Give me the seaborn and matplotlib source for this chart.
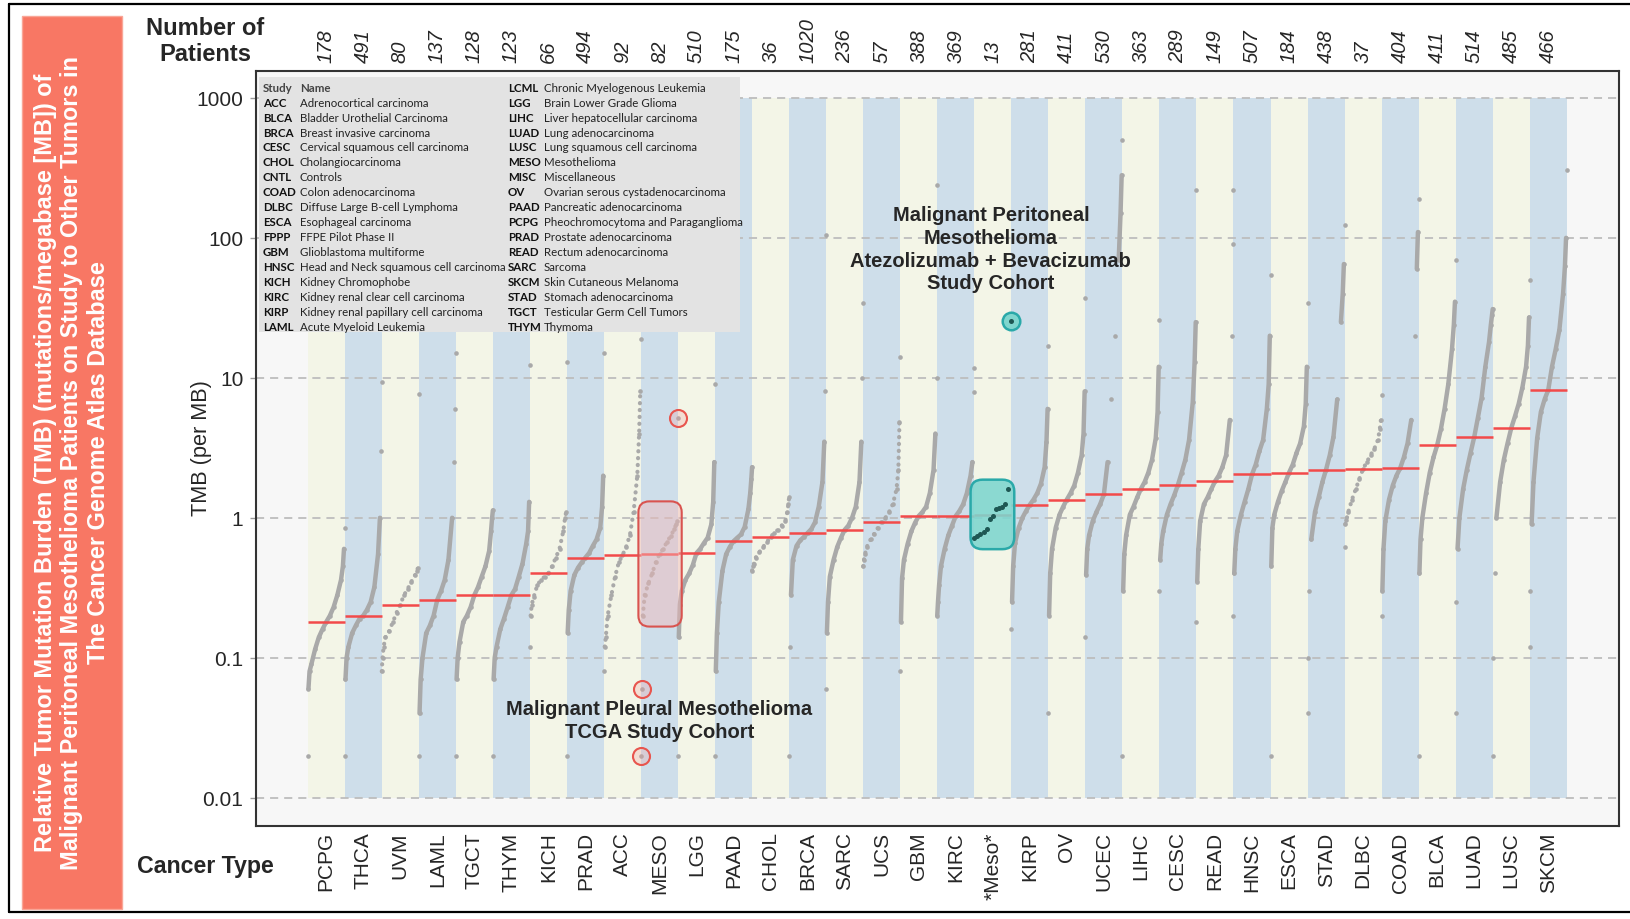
import numpy as np
import pandas as pd
import matplotlib
matplotlib.use("Agg")
import matplotlib.pyplot as plt
import matplotlib.transforms as mtransforms
from matplotlib.patches import FancyBboxPatch, Rectangle
from matplotlib.lines import Line2D
from matplotlib.ticker import NullLocator
import seaborn as sns

# ---------------------------------------------------------------- data
cancer_types = ["PCPG", "THCA", "UVM", "LAML", "TGCT", "THYM", "KICH", "PRAD", "ACC",
                "MESO", "LGG", "PAAD", "CHOL", "BRCA", "SARC", "UCS", "GBM", "KIRC",
                "*Meso*", "KIRP", "OV", "UCEC", "LIHC", "CESC", "READ", "HNSC", "ESCA",
                "STAD", "DLBC", "COAD", "BLCA", "LUAD", "LUSC", "SKCM"]
patients = [178, 491, 80, 137, 128, 123, 66, 494, 92, 82, 510, 175, 36, 1020, 236, 57,
            388, 369, 13, 281, 411, 530, 363, 289, 149, 507, 184, 438, 37, 404, 411, 514,
            485, 466]
medians = [0.18, 0.20, 0.24, 0.26, 0.28, 0.28, 0.40, 0.52, 0.54, 0.55, 0.56, 0.68, 0.73,
           0.78, 0.82, 0.94, 1.03, 1.03, 1.05, 1.24, 1.35, 1.47, 1.61, 1.72, 1.82, 2.04,
           2.10, 2.21, 2.24, 2.26, 3.30, 3.77, 4.37, 8.20]

# sorted TMB per cohort, sampled at these rank percentiles
percentiles = [0, 2, 5, 10, 20, 30, 40, 50, 60, 70, 80, 90, 95, 98, 100]
PCPG = [0.02, 0.06, 0.08, 0.09, 0.115, 0.14, 0.16, 0.18, 0.20, 0.23, 0.28, 0.36, 0.45, 0.60, 0.85]
THCA = [0.02, 0.07, 0.10, 0.12, 0.15, 0.17, 0.19, 0.20, 0.22, 0.25, 0.32, 0.55, 1.0, 3.0, 9.3]
UVM = [0.08, 0.10, 0.12, 0.14, 0.155, 0.18, 0.21, 0.24, 0.28, 0.31, 0.35, 0.39, 0.42, 0.44, 7.7]
LAML = [0.02, 0.04, 0.07, 0.10, 0.15, 0.17, 0.20, 0.26, 0.30, 0.36, 0.50, 1.0, 2.5, 6.0, 15]
TGCT = [0.02, 0.07, 0.10, 0.13, 0.18, 0.20, 0.23, 0.28, 0.32, 0.38, 0.45, 0.58, 0.80, 1.0, 1.13]
THYM = [0.02, 0.07, 0.10, 0.12, 0.16, 0.19, 0.23, 0.28, 0.31, 0.38, 0.47, 0.65, 0.80, 1.3, 12.4]
KICH = [0.12, 0.20, 0.24, 0.27, 0.33, 0.36, 0.38, 0.40, 0.45, 0.52, 0.60, 0.80, 1.0, 1.1, 13]
PRAD = [0.02, 0.15, 0.22, 0.30, 0.39, 0.44, 0.48, 0.52, 0.56, 0.63, 0.70, 0.85, 1.2, 2.0, 15]
ACC = [0.08, 0.12, 0.14, 0.20, 0.28, 0.38, 0.48, 0.54, 0.62, 0.75, 1.1, 2.0, 4.0, 8.0, 19]
MESO = [0.02, 0.06, 0.20, 0.28, 0.34, 0.40, 0.48, 0.55, 0.60, 0.67, 0.74, 0.83, 0.90, 0.95, 5.2]
LGG = [0.02, 0.14, 0.24, 0.30, 0.36, 0.40, 0.46, 0.56, 0.60, 0.66, 0.72, 0.90, 1.3, 2.5, 9.0]
PAAD = [0.02, 0.08, 0.15, 0.25, 0.42, 0.55, 0.62, 0.68, 0.72, 0.76, 0.86, 1.15, 1.5, 1.9, 2.3]
CHOL = [0.42, 0.45, 0.47, 0.52, 0.57, 0.62, 0.67, 0.73, 0.78, 0.82, 0.88, 0.95, 1.1, 1.25, 1.4]
BRCA = [0.02, 0.12, 0.28, 0.50, 0.63, 0.69, 0.73, 0.78, 0.83, 0.93, 1.2, 1.8, 3.5, 8.0, 105]
SARC = [0.06, 0.15, 0.25, 0.38, 0.50, 0.62, 0.72, 0.82, 0.88, 1.0, 1.2, 1.8, 3.5, 10, 34]
UCS = [0.45, 0.50, 0.55, 0.62, 0.70, 0.77, 0.85, 0.94, 1.0, 1.1, 1.25, 1.6, 2.2, 4.8, 14]
GBM = [0.08, 0.18, 0.37, 0.50, 0.65, 0.80, 0.92, 1.03, 1.1, 1.2, 1.5, 2.2, 4.0, 10, 240]
KIRC = [0.20, 0.25, 0.33, 0.45, 0.60, 0.75, 0.88, 1.03, 1.12, 1.25, 1.5, 2.0, 2.5, 7.9, 11.8]
KIRP = [0.16, 0.25, 0.45, 0.66, 0.85, 1.0, 1.12, 1.24, 1.35, 1.5, 1.75, 2.3, 3.5, 6.0, 17]
OV = [0.04, 0.20, 0.40, 0.60, 0.85, 1.05, 1.2, 1.35, 1.5, 1.7, 2.1, 2.8, 4.0, 8.0, 37]
UCEC = [0.14, 0.39, 0.60, 0.75, 0.95, 1.1, 1.25, 1.47, 2.5, 7.0, 20, 70, 150, 280, 500]
LIHC = [0.02, 0.30, 0.55, 0.75, 1.05, 1.2, 1.4, 1.61, 1.8, 2.1, 2.6, 3.7, 5.7, 12, 26]
CESC = [0.30, 0.50, 0.65, 0.80, 1.05, 1.25, 1.45, 1.72, 2.1, 2.6, 3.6, 6.7, 13, 25, 220]
READ = [0.18, 0.35, 0.60, 0.95, 1.25, 1.4, 1.6, 1.82, 2.0, 2.3, 2.8, 5.0, 20, 90, 220]
HNSC = [0.20, 0.40, 0.60, 0.80, 1.05, 1.3, 1.6, 2.04, 2.4, 3.0, 3.6, 6.0, 9.0, 20, 54]
ESCA = [0.02, 0.45, 0.85, 1.05, 1.3, 1.55, 1.8, 2.1, 2.4, 2.9, 3.4, 4.5, 6.5, 12, 34]
STAD = [0.04, 0.10, 0.30, 0.70, 1.1, 1.4, 1.8, 2.21, 2.8, 3.8, 7.0, 25, 40, 65, 124]
DLBC = [0.62, 0.90, 0.97, 1.1, 1.35, 1.6, 1.9, 2.24, 2.5, 2.8, 3.1, 3.6, 4.3, 5.0, 7.6]
COAD = [0.20, 0.30, 0.60, 0.95, 1.35, 1.7, 2.0, 2.26, 2.7, 3.4, 5.0, 20, 60, 110, 190]
BLCA = [0.02, 0.40, 0.70, 1.0, 1.5, 2.1, 2.7, 3.3, 4.3, 6.0, 9.0, 16, 24, 35, 69]
LUAD = [0.04, 0.25, 0.60, 1.0, 1.6, 2.2, 2.9, 3.77, 5.2, 7.2, 12, 18, 24, 28, 31]
LUSC = [0.02, 0.10, 0.40, 1.0, 1.8, 2.6, 3.4, 4.37, 5.3, 6.5, 8.5, 12, 17, 27, 50]
SKCM = [0.12, 0.30, 0.90, 1.8, 3.7, 5.7, 7.0, 8.2, 12, 16, 22, 40, 63, 100, 304]

# peritoneal mesothelioma study cohort (13 patients, sorted)
meso_cohort = [0.716, 0.743, 0.769, 0.794, 0.826, 0.984, 1.03, 1.16, 1.18, 1.20, 1.26,
               1.60, 25.4]

cohorts = [PCPG, THCA, UVM, LAML, TGCT, THYM, KICH, PRAD, ACC, MESO, LGG, PAAD, CHOL,
           BRCA, SARC, UCS, GBM, KIRC, None, KIRP, OV, UCEC, LIHC, CESC, READ, HNSC,
           ESCA, STAD, DLBC, COAD, BLCA, LUAD, LUSC, SKCM]

legend_codes_left = ["ACC", "BLCA", "BRCA", "CESC", "CHOL", "CNTL", "COAD", "DLBC",
                     "ESCA", "FPPP", "GBM", "HNSC", "KICH", "KIRC", "KIRP", "LAML"]
legend_names_left = ["Adrenocortical carcinoma", "Bladder Urothelial Carcinoma",
                     "Breast invasive carcinoma", "Cervical squamous cell carcinoma",
                     "Cholangiocarcinoma", "Controls", "Colon adenocarcinoma",
                     "Diffuse Large B-cell Lymphoma", "Esophageal carcinoma",
                     "FFPE Pilot Phase II", "Glioblastoma multiforme",
                     "Head and Neck squamous cell carcinoma", "Kidney Chromophobe",
                     "Kidney renal clear cell carcinoma",
                     "Kidney renal papillary cell carcinoma", "Acute Myeloid Leukemia"]
legend_codes_right = ["LCML", "LGG", "LIHC", "LUAD", "LUSC", "MESO", "MISC", "OV", "PAAD",
                      "PCPG", "PRAD", "READ", "SARC", "SKCM", "STAD", "TGCT", "THYM"]
legend_names_right = ["Chronic Myelogenous Leukemia", "Brain Lower Grade Glioma",
                      "Liver hepatocellular carcinoma", "Lung adenocarcinoma",
                      "Lung squamous cell carcinoma", "Mesothelioma", "Miscellaneous",
                      "Ovarian serous cystadenocarcinoma", "Pancreatic adenocarcinoma",
                      "Pheochromocytoma and Paraganglioma", "Prostate adenocarcinoma",
                      "Rectum adenocarcinoma", "Sarcoma", "Skin Cutaneous Melanoma",
                      "Stomach adenocarcinoma", "Testicular Germ Cell Tumors", "Thymoma"]

y_ticks = [0.01, 0.1, 1, 10, 100, 1000]
y_tick_labels = ["0.01", "0.1", "1", "10", "100", "1000"]

# ---------------------------------------------------------------- style
sns.set_theme(style="white")
plt.rcParams["font.family"] = ["Liberation Sans", "DejaVu Sans"]

W, H = 1631, 920
fig = plt.figure(figsize=(W / 100, H / 100), dpi=100)
fig.patch.set_facecolor("white")
AX_L, AX_R, AX_T, AX_B = 256, 1619, 72.3, 826.7
ax_w_px, ax_h_px = AX_R - AX_L, AX_B - AX_T
ax = fig.add_axes([AX_L / W, 1 - AX_B / H, ax_w_px / W, ax_h_px / H])
ax.set_facecolor("#f7f7f7")
ax.set_yscale("log")

n_types = len(cancer_types)
idx = np.arange(n_types)
GREY = "#a9a9a9"

# alternating column bands between 0.01 and 1000
band_colors = ["#f3f5e7" if i % 2 == 0 else "#cedeea" for i in idx]
ax.bar(idx, 1000 - 0.01, bottom=0.01, width=1.0, color=band_colors, linewidth=0, zorder=0.5)

for v in y_ticks:
    ax.axhline(v, color="#bdbdbd", lw=1.3, dashes=(4.5, 3.3), zorder=1)

# knots of each cohort's sorted curve; the extreme patients stay as lone dots
point_rows, dense_rows, sparse_rows = [], [], []
run_id = 0
last = len(percentiles) - 1
for i, (name, vals, n) in enumerate(zip(cancer_types, cohorts, patients)):
    if vals is None:
        continue
    xs = [i - 0.5 + p / 100 for p in percentiles]
    for x, v in zip(xs, vals):
        point_rows.append({"type": name, "pos": x, "tmb": v})
    logs = np.log10(vals)
    run = [0]
    runs = []
    for k in range(1, len(vals)):
        limit = 0.12 if k in (1, last) else 0.35
        if abs(logs[k] - logs[k - 1]) < limit:
            run.append(k)
        else:
            runs.append(run)
            run = [k]
    runs.append(run)
    target = dense_rows if n >= 100 else sparse_rows
    for r in runs:
        if len(r) < 2:
            continue
        for k in r:
            target.append({"run": run_id, "pos": xs[k], "tmb": vals[k]})
        run_id += 1

points_df = pd.DataFrame(point_rows)
dense_df = pd.DataFrame(dense_rows)
sparse_df = pd.DataFrame(sparse_rows)

sns.lineplot(data=dense_df, x="pos", y="tmb", units="run", estimator=None, sort=False,
             color=GREY, lw=3.2, solid_capstyle="round", ax=ax, zorder=2, legend=False)
n_before = len(ax.lines)
sns.lineplot(data=sparse_df, x="pos", y="tmb", units="run", estimator=None, sort=False,
             color=GREY, lw=3.0, ax=ax, zorder=2, legend=False)
for line in ax.lines[n_before:]:
    line.set_linestyle((0, (0.05, 1.6)))
    line.set_dash_capstyle("round")
sns.scatterplot(data=points_df, x="pos", y="tmb", color=GREY, s=11, linewidth=0,
                ax=ax, zorder=2, legend=False)

# cohort medians
ax.hlines(medians, idx - 0.5, idx + 0.5, colors="#f24a4a", lw=1.8, zorder=3)

# ---------------------------------------------------------------- axes cosmetics
ax.set_xlim(-1.896, 34.91)
ax.set_ylim(10 ** -2.2, 10 ** 3.19)
ax.set_xticks(idx)
ax.set_xticklabels(cancer_types, rotation=90, fontsize=15)
ax.set_yticks(y_ticks)
ax.set_yticklabels(y_tick_labels, fontsize=15)
ax.yaxis.set_minor_locator(NullLocator())
ax.tick_params(axis="x", length=0, pad=4)
ax.tick_params(axis="y", length=4, width=1, color="#9a9a9a", pad=5, left=True)
ax.set_xlabel("")
ax.set_ylabel("")
for s in ax.spines.values():
    s.set_visible(True)
    s.set_color("#333333")
    s.set_linewidth(1.5)

to_axes = ax.transData + ax.transAxes.inverted()


def rounded_box(x0, x1, y0, y1, r_px, **kw):
    (a0, b0) = to_axes.transform((x0, y0))
    (a1, b1) = to_axes.transform((x1, y1))
    patch = FancyBboxPatch((a0, b0), a1 - a0, b1 - b0,
                           boxstyle=f"round,pad=0,rounding_size={r_px / ax_w_px}",
                           mutation_aspect=ax_w_px / ax_h_px,
                           transform=ax.transAxes, **kw)
    ax.add_patch(patch)


# pleural mesothelioma (TCGA) highlight
i_meso = cancer_types.index("MESO")
rounded_box(i_meso - 0.57, i_meso + 0.60, 0.167, 1.31, 11,
            facecolor=(0.95, 0.72, 0.72, 0.45), edgecolor="#d9534f", lw=1.5, zorder=4)
sns.scatterplot(x=[i_meso - 0.5, i_meso - 0.5 + percentiles[1] / 100, i_meso + 0.5],
                y=[MESO[0], MESO[1], MESO[-1]], s=150,
                facecolor=(0.96, 0.6, 0.6, 0.25), edgecolor="#e8554e", linewidth=1.5,
                ax=ax, zorder=4, legend=False)
ax.text(8.99, 0.036, "Malignant Pleural Mesothelioma\nTCGA Study Cohort", ha="center",
        va="center", fontsize=14.5, fontweight="bold", linespacing=1.25, zorder=7)

# peritoneal mesothelioma study cohort
i_coh = cancer_types.index("*Meso*")
n_coh = len(meso_cohort)
coh_x = [i_coh - 0.5 + k / (n_coh - 1) for k in range(n_coh)]
rounded_box(i_coh - 0.60, i_coh + 0.58, min(meso_cohort) / 1.2,
            sorted(meso_cohort)[-2] * 1.17, 12,
            facecolor=(0.49, 0.84, 0.81, 0.88), edgecolor="#2aa9a9", lw=1.8, zorder=4)
sns.scatterplot(x=[coh_x[-1]], y=[meso_cohort[-1]], s=160, color="#7fd6ce",
                edgecolor="#2aa9a9", linewidth=1.8, ax=ax, zorder=5, legend=False)
sns.scatterplot(x=coh_x, y=meso_cohort, s=13, color="#1e5753", linewidth=0,
                ax=ax, zorder=6, legend=False)
ax.text(17.95, 83.5,
        "Malignant Peritoneal\nMesothelioma\nAtezolizumab + Bevacizumab\nStudy Cohort",
        ha="center", va="center", fontsize=14.5, fontweight="bold", linespacing=1.25,
        zorder=7)

# patients per cohort above the plot
top_tr = mtransforms.blended_transform_factory(ax.transData, ax.transAxes)
for i, n in enumerate(patients):
    ax.text(i, 1 + 9 / ax_h_px, str(n), transform=top_tr, rotation=90, ha="center",
            va="bottom", fontsize=14.5, style="italic", clip_on=False)


# study abbreviation key
def ax_y(px):
    return 1 - (px - AX_T) / ax_h_px


def ax_x(px):
    return (px - AX_L) / ax_w_px


ax.add_patch(Rectangle((ax_x(259), ax_y(333)), ax_x(740) - ax_x(259),
                       ax_y(78) - ax_y(333), transform=ax.transAxes,
                       facecolor="#e3e3e3", edgecolor="none", zorder=10, clip_on=False))
LEG_FONT = ["Lato", "DejaVu Sans"]


def row_px(k):
    return 87.3 + k * 14.92


key_kw = dict(transform=ax.transAxes, va="center_baseline", ha="left", fontsize=8.3,
              family=LEG_FONT, zorder=11)
ax.text(ax_x(262.7), ax_y(row_px(0)), "Study", fontweight="bold", color="#444444", **key_kw)
ax.text(ax_x(300), ax_y(row_px(0)), "Name", fontweight="bold", color="#444444", **key_kw)
for k, (c, nm) in enumerate(zip(legend_codes_left, legend_names_left), start=1):
    ax.text(ax_x(262.7), ax_y(row_px(k)), c, fontweight="bold", color="#111111", **key_kw)
    ax.text(ax_x(300), ax_y(row_px(k)), nm, color="#222222", **key_kw)
for k, (c, nm) in enumerate(zip(legend_codes_right, legend_names_right)):
    ax.text(ax_x(507.7), ax_y(row_px(k)), c, fontweight="bold", color="#111111", **key_kw)
    ax.text(ax_x(544), ax_y(row_px(k)), nm, color="#222222", **key_kw)

# ---------------------------------------------------------------- figure furniture
fig.add_artist(Rectangle((22 / W, 1 - 910 / H), 100 / W, (910 - 17.3) / H,
                         transform=fig.transFigure, facecolor="#f87764",
                         edgecolor="#f9a697", lw=1.0))
fig.text(72 / W, 1 - 463 / H,
         "Relative Tumor Mutation Burden (TMB) (mutations/megabase [MB]) of\n"
         "Malignant Peritoneal Mesothelioma Patients on Study to Other Tumors in\n"
         "The Cancer Genome Atlas Database",
         rotation=90, ha="center", va="center", color="white", fontsize=16.9,
         fontweight="bold", linespacing=1.2, multialignment="center")
fig.text(205 / W, 1 - 41.5 / H, "Number of\nPatients", ha="center", va="center",
         fontsize=17, fontweight="bold", linespacing=1.2)
fig.text(205 / W, 1 - 867 / H, "Cancer Type", ha="center", va="center", fontsize=16.7,
         fontweight="bold")
fig.text(202 / W, 1 - 448 / H, "TMB (per MB)", rotation=90, ha="center", va="center",
         fontsize=15.7)

frame_kw = dict(transform=fig.transFigure, color="black", lw=1.6)
fig.add_artist(Line2D([9 / W, 1.0], [1 - 5 / H, 1 - 5 / H], **frame_kw))
fig.add_artist(Line2D([9 / W, 9 / W], [1 - 5 / H, 1 - 913 / H], **frame_kw))
fig.add_artist(Line2D([9 / W, 1.0], [1 - 913 / H, 1 - 913 / H], **frame_kw))

fig.savefig("out.png", dpi=100)
